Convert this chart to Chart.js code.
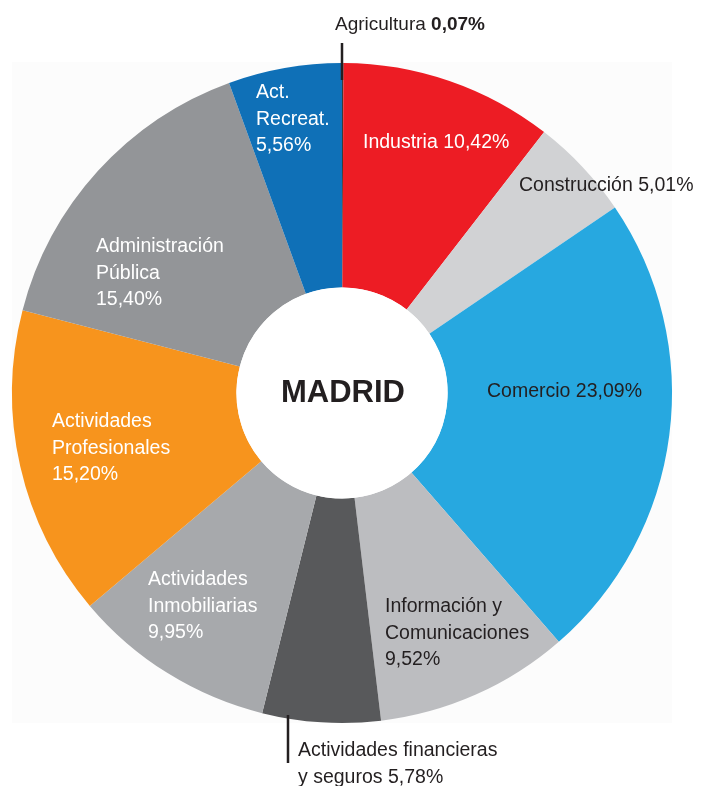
<!DOCTYPE html>
<html>
<head>
<meta charset="utf-8">
<script src="https://cdn.jsdelivr.net/npm/chart.js@4.4.0/dist/chart.umd.min.js"></script>
<style>
  html, body { margin: 0; padding: 0; background: #fff; }
  #wrap { position: relative; width: 701px; height: 786px; }
</style>
</head>
<body>
<div id="wrap"><canvas id="pie" width="701" height="786"></canvas></div>
<script>
const sectores = ['Agricultura', 'Industria', 'Construcción', 'Comercio', 'Información y Comunicaciones',
  'Actividades financieras y seguros', 'Actividades Inmobiliarias', 'Actividades Profesionales',
  'Administración Pública', 'Act. Recreat.'];
const porcentajes = [0.07, 10.42, 5.01, 23.09, 9.52, 5.78, 9.95, 15.20, 15.40, 5.56];
const colores = ['#3a3a3c', '#ed1c24', '#d1d2d4', '#27a8e0', '#bcbdc0', '#58595b', '#a7a9ac', '#f7941d', '#939598', '#0f70b7'];

const fmt = v => v.toFixed(2).replace('.', ',') + '%';

// label text lines, colour, x, first baseline
const etiquetas = [
  { lines: [['Agricultura ', false], [fmt(porcentajes[0]), true]], color: '#231f20', x: 335, y: 30, size: 19, inline: true },
  { lines: ['Industria ' + fmt(porcentajes[1])], color: '#fff', x: 363, y: 148 },
  { lines: ['Construcción ' + fmt(porcentajes[2])], color: '#231f20', x: 519, y: 191 },
  { lines: ['Comercio ' + fmt(porcentajes[3])], color: '#231f20', x: 487, y: 397 },
  { lines: ['Información y', 'Comunicaciones', fmt(porcentajes[4])], color: '#231f20', x: 385, y: 612 },
  { lines: ['Actividades financieras', 'y seguros ' + fmt(porcentajes[5])], color: '#231f20', x: 298, y: 756 },
  { lines: ['Actividades', 'Inmobiliarias', fmt(porcentajes[6])], color: '#fff', x: 148, y: 585 },
  { lines: ['Actividades', 'Profesionales', fmt(porcentajes[7])], color: '#fff', x: 52, y: 427 },
  { lines: ['Administración', 'Pública', fmt(porcentajes[8])], color: '#fff', x: 96, y: 252 },
  { lines: ['Act.', 'Recreat.', fmt(porcentajes[9])], color: '#fff', x: 256, y: 98 }
];

const fondo = {
  id: 'fondo',
  beforeDraw(chart) {
    const a = chart.chartArea, ctx = chart.ctx;
    ctx.save();
    ctx.fillStyle = '#fcfcfc';
    ctx.fillRect(a.left, a.top - 1, a.right - a.left, a.bottom - a.top + 1);
    ctx.restore();
  }
};

const textos = {
  id: 'textos',
  afterDraw(chart) {
    const ctx = chart.ctx;
    const arc = chart.getDatasetMeta(0).data[0];
    ctx.save();
    ctx.textBaseline = 'alphabetic';
    ctx.textAlign = 'left';
    etiquetas.forEach(e => {
      ctx.fillStyle = e.color;
      if (e.inline) {
        let x = e.x;
        e.lines.forEach(([t, bold]) => {
          ctx.font = (bold ? 'bold ' : '') + e.size + 'px "Liberation Sans", Arial, sans-serif';
          ctx.fillText(t, x, e.y);
          x += ctx.measureText(t).width;
        });
      } else {
        ctx.font = '19.5px "Liberation Sans", Arial, sans-serif';
        e.lines.forEach((t, i) => ctx.fillText(t, e.x, e.y + i * 26.5));
      }
    });
    // leader lines
    ctx.strokeStyle = '#231f20';
    ctx.lineWidth = 2.5;
    ctx.beginPath();
    ctx.moveTo(arc.x, 43);
    ctx.lineTo(arc.x, 80);
    ctx.moveTo(288, 715);
    ctx.lineTo(288, 763);
    ctx.stroke();
    // centre
    ctx.fillStyle = '#fff';
    ctx.beginPath();
    ctx.arc(arc.x, arc.y, arc.innerRadius, 0, Math.PI * 2);
    ctx.fill();
    ctx.fillStyle = '#231f20';
    ctx.font = 'bold 31px "Liberation Sans", Arial, sans-serif';
    ctx.textAlign = 'center';
    ctx.fillText('MADRID', arc.x + 1, arc.y + 9);
    ctx.restore();
  }
};

new Chart(document.getElementById('pie'), {
  type: 'doughnut',
  data: {
    labels: sectores,
    datasets: [{
      data: porcentajes,
      backgroundColor: colores,
      borderWidth: 0
    }]
  },
  options: {
    responsive: false,
    animation: false,
    cutout: '32%',
    layout: { padding: { left: 12, right: 29, top: 63, bottom: 63 } },
    plugins: {
      legend: { display: false },
      tooltip: { enabled: false }
    }
  },
  plugins: [fondo, textos]
});
</script>
</body>
</html>
